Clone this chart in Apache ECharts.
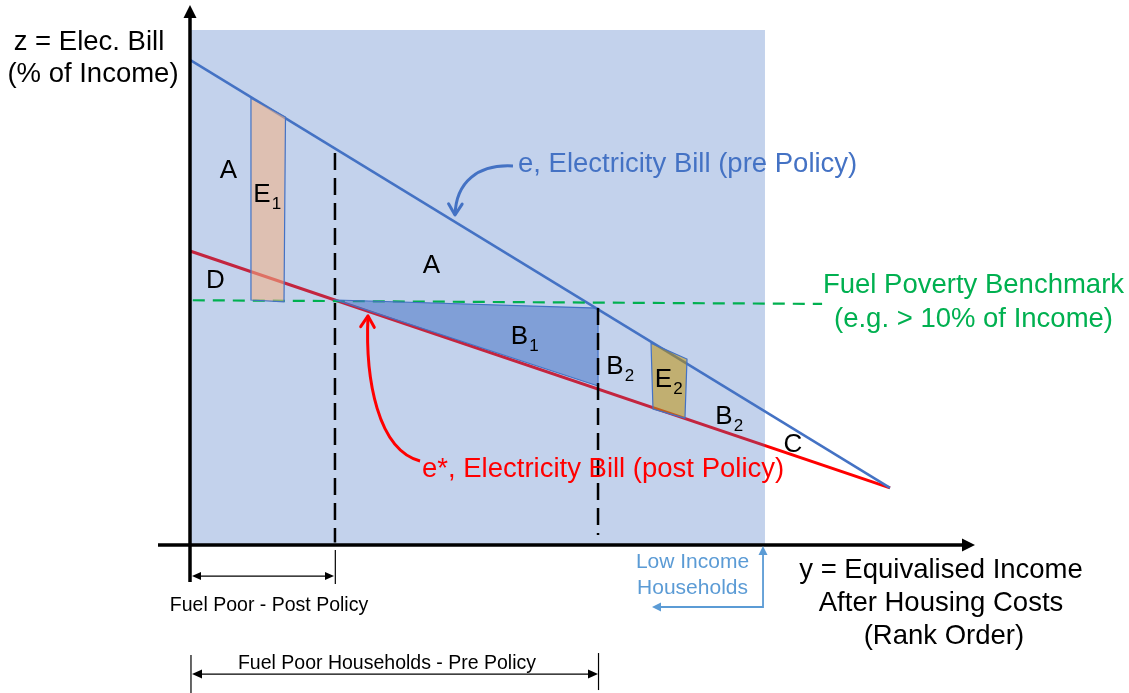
<!DOCTYPE html>
<html>
<head>
<meta charset="utf-8">
<script src="https://cdn.jsdelivr.net/npm/echarts@6/dist/echarts.min.js"></script>
<style>
html,body{margin:0;padding:0;background:#ffffff;}
#chart{width:1129px;height:693px;}
</style>
</head>
<body>
<div id="chart"></div>
<script>
// ---------------- DATA (x: income rank units, y: electricity bill, % of income) ----------------
const rankEnds = [0, 100];
const billPre = [19.8, 2.33];          // e, pre policy
const billPost = [12.0, 2.33];         // e*, post policy
const benchmarkX = [0.4, 90.3];
const benchmarkY = [9.99, 9.84];       // fuel poverty benchmark (~10%)
const lowIncomeRange = [0, 82.14];     // low income households span
const panelTop = [21.02];
const postPolicyCut = [20.71, 16.0];   // rank, top of dashed marker
const prePolicyCut = [58.29, 9.67];
const areaE1 = [[8.71, 18.24], [13.64, 17.47], [13.43, 9.92], [8.71, 10.0]];
const areaB1 = [[20.86, 10.0], [58.29, 9.67], [58.29, 6.49]];
const areaE2 = [[65.86, 8.24], [71.0, 7.59], [70.71, 5.18], [66.14, 5.55]];
const regionNames = ['A', 'E', 'D', 'A', 'B', 'B', 'E', 'B', 'C'];
const regionSubs  = ['',  '1', '',  '',  '1', '2', '2', '2', ''];
const regionAnchors = [[5.5, 15.27], [10.29, 14.29], [3.64, 10.78], [34.5, 11.39], [47.07, 8.51],
                       [60.71, 7.29], [67.64, 6.76], [76.29, 5.24], [86.14, 4.10]];
const zAxisSpan = [-1.51, 22.04];
const yAxisSpan = [-4.57, 112.14];
const postBracket = [0.29, 20.57, -1.27];
const preBracket = [0.29, 58.29, -5.27];
const lowIncomeBracket = [[66.0, -2.53], [81.86, -2.53], [81.86, -0.04]];
const preArrowPath = [[46.14, 15.47], [41.14, 15.55], [38.0, 14.82], [37.86, 13.47]];
const postArrowPath = [[32.86, 3.43], [26.86, 3.88], [25.0, 6.73], [25.43, 9.35]];

const axisTitleZ = ['z = Elec. Bill', '(% of Income)'];
const axisTitleY = ['y = Equivalised Income', 'After Housing Costs', '(Rank Order)'];
const benchmarkLabel = ['Fuel Poverty Benchmark', '(e.g. > 10% of Income)'];
const preLabel = 'e, Electricity Bill (pre Policy)';
const postLabel = 'e*, Electricity Bill (post Policy)';
const lowIncomeLabel = ['Low Income', 'Households'];
const bracketLabels = ['Fuel Poor - Post Policy', 'Fuel Poor Households - Pre Policy'];

// ---------------- DRAWING ----------------
const FONT = '"Liberation Sans", Arial, sans-serif';
const BLUE = '#4472C4', RED = '#FF0000', GREEN = '#00B050', LBLUE = '#5B9BD5';

function txt(api, str, pt, size, color, align) {
  const p = api.coord(pt);
  return {type: 'text', x: p[0], y: p[1],
    style: {text: str, fill: color, fontSize: size, fontFamily: FONT, align: align || 'center', verticalAlign: 'middle'}};
}
function seg(a, b, style) {
  return {type: 'line', shape: {x1: a[0], y1: a[1], x2: b[0], y2: b[1]}, style: style};
}
function head(tip, from, len, hw, fill) {
  const dx = tip[0] - from[0], dy = tip[1] - from[1];
  const L = Math.hypot(dx, dy) || 1, ux = dx / L, uy = dy / L;
  const bx = tip[0] - ux * len, by = tip[1] - uy * len;
  return {type: 'polygon', shape: {points: [tip, [bx - uy * hw, by + ux * hw], [bx + uy * hw, by - ux * hw]]},
    style: {fill: fill}};
}
function chevron(tip, from, len, ang, stroke, w) {
  const dx = tip[0] - from[0], dy = tip[1] - from[1];
  const L = Math.hypot(dx, dy) || 1, ux = dx / L, uy = dy / L;
  const c = Math.cos(ang) * len, s = Math.sin(ang) * len;
  const p1 = [tip[0] - ux * c - uy * s, tip[1] - uy * c + ux * s];
  const p2 = [tip[0] - ux * c + uy * s, tip[1] - uy * c - ux * s];
  return {type: 'polyline', shape: {points: [p1, tip, p2]},
    style: {stroke: stroke, lineWidth: w, fill: null, lineJoin: 'round', lineCap: 'round'}};
}
function curveArrow(api, path, color) {
  const p = path.map(q => api.coord(q));
  return [
    {type: 'bezierCurve', shape: {x1: p[0][0], y1: p[0][1], cpx1: p[1][0], cpy1: p[1][1],
      cpx2: p[2][0], cpy2: p[2][1], x2: p[3][0], y2: p[3][1]},
      style: {stroke: color, lineWidth: 3, fill: null}},
    chevron(p[3], p[2], 13, 0.55, color, 3)
  ];
}
function custom(z, build) {
  return {type: 'custom', z: z, silent: true, clip: false, data: [[0, 0]],
    renderItem: (params, api) => ({type: 'group', children: build(api)})};
}

const series = [
  {type: 'line', z: 1, silent: true, symbol: 'none', data: rankEnds.map((x, i) => [x, billPost[i]]),
    lineStyle: {color: RED, width: 3}},
  custom(2, api => {
    const a = api.coord([lowIncomeRange[0], panelTop[0]]), b = api.coord([lowIncomeRange[1], 0]);
    return [{type: 'rect', shape: {x: a[0], y: a[1], width: b[0] - a[0], height: b[1] - a[1]},
      style: {fill: 'rgba(68,114,196,0.32)'}}];
  }),
  {type: 'line', z: 3, silent: true, symbol: 'none', data: rankEnds.map((x, i) => [x, billPre[i]]),
    lineStyle: {color: BLUE, width: 2.5}},
  {type: 'line', z: 3, silent: true, symbol: 'none', data: benchmarkX.map((x, i) => [x, benchmarkY[i]]),
    lineStyle: {color: GREEN, width: 2.2, type: [12, 8]}},
  custom(4, api => {
    const poly = (pts, fill) => ({type: 'polygon', shape: {points: pts.map(q => api.coord(q))},
      style: {fill: fill, stroke: BLUE, lineWidth: 1.2}});
    return [poly(areaE1, 'rgba(244,177,131,0.55)'), poly(areaB1, 'rgba(68,114,196,0.53)'),
            poly(areaE2, 'rgba(191,144,0,0.52)')];
  }),
  custom(5, api => {
    const st = {stroke: '#000', lineWidth: 2.5, lineDash: [17, 8]};
    return [
      seg(api.coord([postPolicyCut[0], postPolicyCut[1]]), api.coord([postPolicyCut[0], 0.1]), st),
      seg(api.coord([prePolicyCut[0], prePolicyCut[1]]), api.coord([prePolicyCut[0], 0.41]), st)
    ];
  }),
  custom(6, api => {
    const k = {stroke: '#000', lineWidth: 3.5};
    const yb = api.coord([0, zAxisSpan[0]]), yt = api.coord([0, zAxisSpan[1]]);
    const xl = api.coord([yAxisSpan[0], 0]), xr = api.coord([yAxisSpan[1], 0]);
    const thin = {stroke: '#000', lineWidth: 1.2};
    const pb0 = api.coord([postBracket[0], postBracket[2]]), pb1 = api.coord([postBracket[1], postBracket[2]]);
    const qb0 = api.coord([preBracket[0], preBracket[2]]), qb1 = api.coord([preBracket[1], preBracket[2]]);
    const li = lowIncomeBracket.map(q => api.coord(q));
    const lst = {stroke: LBLUE, lineWidth: 1.8, fill: null};
    return [
      seg(yb, [yt[0], yt[1] + 10], k), head(yt, yb, 13, 6.5, '#000'),
      seg(xl, [xr[0] - 10, xr[1]], k), head(xr, xl, 13, 6.5, '#000'),
      // post policy bracket
      seg([pb0[0] + 4, pb0[1]], [pb1[0] - 4, pb1[1]], thin),
      head(pb0, pb1, 9, 4, '#000'), head(pb1, pb0, 9, 4, '#000'),
      seg(api.coord([postPolicyCut[0] + 0.05, -0.2]), api.coord([postPolicyCut[0] + 0.05, -1.59]), thin),
      // pre policy bracket
      seg([qb0[0] + 4, qb0[1]], [qb1[0] - 4, qb1[1]], thin),
      head(qb0, qb1, 10, 4.5, '#000'), head(qb1, qb0, 10, 4.5, '#000'),
      seg(api.coord([0.14, -4.49]), api.coord([0.14, -6.08]), thin),
      seg(api.coord([prePolicyCut[0] + 0.07, -4.41]), api.coord([prePolicyCut[0] + 0.07, -5.92]), thin),
      // low income bracket
      {type: 'polyline', shape: {points: [[li[0][0] + 6, li[0][1]], li[1], [li[2][0], li[2][1] + 6]]}, style: lst},
      head(li[0], li[1], 9, 4.5, LBLUE), head(li[2], li[1], 9, 4.5, LBLUE)
    ];
  }),
  custom(7, api => {
    const out = [];
    out.push(...curveArrow(api, preArrowPath, BLUE));
    out.push(...curveArrow(api, postArrowPath, RED));
    // region letters with subscripts
    regionNames.forEach((n, i) => {
      const p = api.coord(regionAnchors[i]);
      out.push({type: 'text', x: p[0], y: p[1], style: {text: n, fill: '#000', fontSize: 26, fontFamily: FONT,
        align: 'center', verticalAlign: 'middle'}});
      if (regionSubs[i]) {
        out.push({type: 'text', x: p[0] + 14.5, y: p[1] + 9.5, style: {text: regionSubs[i], fill: '#000',
          fontSize: 17, fontFamily: FONT, align: 'center', verticalAlign: 'middle'}});
      }
    });
    out.push(txt(api, axisTitleZ[0], [-14.43, 20.53], 27.5, '#000'));
    out.push(txt(api, axisTitleZ[1], [-13.86, 19.2], 27.5, '#000'));
    out.push(txt(api, axisTitleY[0], [107.29, -1.02], 27.5, '#000'));
    out.push(txt(api, axisTitleY[1], [107.29, -2.39], 27.5, '#000'));
    out.push(txt(api, axisTitleY[2], [107.7, -3.72], 27.5, '#000'));
    out.push(txt(api, benchmarkLabel[0], [111.93, 10.61], 27.5, GREEN));
    out.push(txt(api, benchmarkLabel[1], [111.93, 9.22], 27.5, GREEN));
    out.push(txt(api, preLabel, [46.86, 15.55], 27.5, BLUE, 'left'));
    out.push(txt(api, postLabel, [33.14, 3.10], 27.5, RED, 'left'));
    out.push(txt(api, lowIncomeLabel[0], [71.79, -0.69], 21, LBLUE));
    out.push(txt(api, lowIncomeLabel[1], [71.79, -1.76], 21, LBLUE));
    out.push(txt(api, bracketLabels[0], [11.29, -2.49], 19.5, '#000'));
    out.push(txt(api, bracketLabels[1], [28.14, -4.84], 19.5, '#000'));
    return out;
  })
];

const chart = echarts.init(document.getElementById('chart'), null, {renderer: 'canvas'});
chart.setOption({
  animation: false,
  backgroundColor: '#ffffff',
  grid: {left: 0, right: 0, top: 0, bottom: 0},
  xAxis: {type: 'value', min: -190 / 7, max: 939 / 7, show: false},
  yAxis: {type: 'value', min: -148 / 24.5, max: 545 / 24.5, show: false},
  series: series
});
</script>
</body>
</html>
